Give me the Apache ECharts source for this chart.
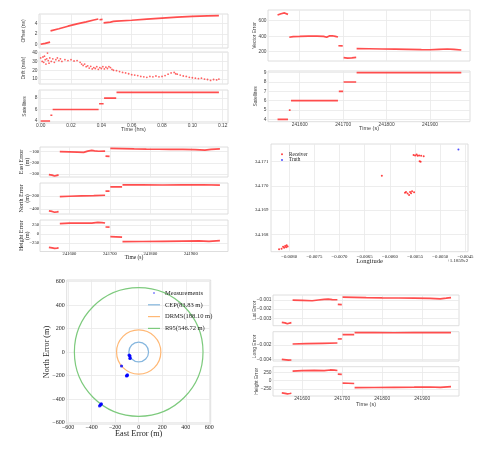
<!DOCTYPE html>
<html>
<head>
<meta charset="utf-8">
<script src="https://cdn.jsdelivr.net/npm/echarts@6/dist/echarts.min.js"></script>
<style>
html, body { margin: 0; padding: 0; background: #fff; }
#main { width: 501px; height: 452px; }
</style>
</head>
<body>
<div id="main"></div>
<script>
// ---- 数据 ----
// 左上: 钟差 / 钟漂 / 卫星数 (时间: 小时)
var hrsTicks = [0, 0.02, 0.04, 0.06, 0.08, 0.10, 0.12];
var offsetSegs = [
    [[0, 0], [0.003, 0.18], [0.0062, 0.42]],
    [[0.0065, 2.6], [0.012, 3.0], [0.018, 3.5], [0.024, 3.95], [0.030, 4.35], [0.035, 4.7], [0.038, 4.9]],
    [[0.0388, 4.75], [0.0408, 4.82]],
    [[0.0415, 4.15], [0.046, 4.3], [0.048, 4.42], [0.050, 4.47], [0.060, 4.65], [0.070, 4.85], [0.080, 5.05], [0.090, 5.25], [0.100, 5.4], [0.110, 5.5], [0.1175, 5.55]]
];
var driftPts = [
    [0, 34], [0.001, 30], [0.0015, 35], [0.002, 29], [0.0025, 36], [0.003, 32], [0.0035, 27], [0.004, 33], [0.0045, 39.5],
    [0.005, 31], [0.0055, 28], [0.006, 34], [0.007, 30], [0.008, 33], [0.009, 29], [0.010, 32], [0.011, 34], [0.012, 31],
    [0.013, 33], [0.014, 30], [0.016, 32], [0.018, 31], [0.020, 32], [0.022, 30.5], [0.024, 31], [0.026, 29], [0.027, 27],
    [0.028, 25.5], [0.029, 27], [0.030, 24], [0.031, 25], [0.032, 22.5], [0.033, 24.5], [0.034, 21.5], [0.035, 23],
    [0.036, 22], [0.037, 24], [0.038, 21], [0.039, 23], [0.040, 22], [0.041, 24], [0.042, 21.5], [0.043, 23.5], [0.044, 22],
    [0.045, 24], [0.046, 23], [0.047, 21], [0.048, 20], [0.050, 19.5], [0.052, 18.5], [0.054, 17.5], [0.056, 17], [0.058, 16],
    [0.060, 15], [0.062, 14.5], [0.064, 14], [0.066, 13], [0.068, 12.5], [0.070, 12], [0.072, 13], [0.074, 12.5], [0.076, 13.5],
    [0.078, 12.5], [0.080, 13], [0.082, 14], [0.084, 15.5], [0.086, 17], [0.088, 17.5], [0.089, 16], [0.090, 15.5], [0.092, 14.5],
    [0.094, 13.5], [0.096, 13], [0.098, 12], [0.100, 11.5], [0.102, 11], [0.104, 10.5], [0.106, 11], [0.108, 10], [0.110, 9.5],
    [0.112, 8.5], [0.114, 9.5], [0.116, 9], [0.1175, 10]
];
var satHrsSegs = [
    [[0, 4], [0.0062, 4]], [[0.0064, 5], [0.0077, 5]], [[0.0079, 6], [0.0382, 6]],
    [[0.0385, 7], [0.0415, 7]], [[0.0418, 8], [0.0498, 8]], [[0.050, 9], [0.1175, 9]]
];

// 时间 (秒)
var secTicks = [241600, 241700, 241800, 241900];
var vecErrSegs = [
    [[241549, 673], [241553, 682], [241557, 690], [241561, 688], [241565, 700], [241569, 695], [241573, 682]],
    [[241576, 386], [241585, 395], [241600, 397], [241620, 400], [241640, 402], [241655, 398], [241662, 387], [241668, 404], [241675, 406], [241682, 398], [241688, 390]],
    [[241689, 277], [241699, 275]],
    [[241701, 123], [241710, 117], [241720, 120], [241730, 126]],
    [[241731, 239], [241760, 238], [241790, 235], [241820, 233], [241850, 230], [241880, 226], [241900, 225], [241920, 230], [241940, 235], [241955, 230], [241972, 222]]
];
var satSecSegs = [
    [[241549, 4], [241573, 4]], [[241575, 5], [241579, 5]], [[241580, 6], [241688, 6]],
    [[241690, 7], [241700, 7]], [[241701, 8], [241730, 8]], [[241731, 9], [241972, 9]]
];
var eastSegs = [
    [[241549, -305], [241557, -310], [241563, -318], [241569, -312], [241573, -308]],
    [[241576, -100], [241600, -102], [241620, -104], [241635, -106], [241645, -95], [241655, -88], [241662, -92], [241672, -96], [241688, -95]],
    [[241689, -139], [241699, -142]],
    [[241701, -70], [241730, -72], [241760, -75], [241790, -77], [241820, -78], [241850, -80], [241880, -80], [241910, -82], [241935, -86], [241950, -80], [241972, -75]]
];
var northSegs = [
    [[241549, -430], [241557, -438], [241563, -450], [241569, -445], [241573, -440]],
    [[241576, -210], [241600, -205], [241630, -200], [241660, -196], [241688, -190]],
    [[241689, -127], [241699, -125]],
    [[241701, -62], [241730, -60]],
    [[241731, -31], [241780, -30], [241830, -33], [241880, -31], [241930, -29], [241972, -35]]
];
var heightSegs = [
    [[241549, -365], [241557, -380], [241563, -395], [241569, -385], [241573, -378]],
    [[241576, 285], [241600, 300], [241630, 305], [241655, 300], [241670, 320], [241680, 315], [241688, 305]],
    [[241689, 195], [241699, 190]],
    [[241701, -73], [241715, -78], [241730, -85]],
    [[241731, -210], [241780, -205], [241830, -200], [241880, -195], [241920, -190], [241945, -200], [241972, -182]]
];
var latSegs = [
    [[241549, -0.00345], [241557, -0.0035], [241563, -0.0036], [241569, -0.00352], [241573, -0.00348]],
    [[241576, -0.00102], [241600, -0.00104], [241625, -0.00108], [241640, -0.0010], [241655, -0.00092], [241665, -0.0009], [241675, -0.00096], [241688, -0.00097]],
    [[241689, -0.00147], [241699, -0.0015]],
    [[241701, -0.00068], [241730, -0.0007], [241760, -0.00073], [241800, -0.00076], [241840, -0.00078], [241880, -0.0008], [241920, -0.00082], [241945, -0.00088], [241960, -0.0008], [241972, -0.00073]]
];
var longSegs = [
    [[241549, -0.0040], [241560, -0.00408], [241566, -0.00413], [241573, -0.0041]],
    [[241576, -0.00186], [241610, -0.0018], [241650, -0.00176], [241688, -0.00172]],
    [[241689, -0.00116], [241699, -0.00114]],
    [[241701, -0.00056], [241730, -0.00054]],
    [[241731, -0.00028], [241780, -0.00026], [241830, -0.00029], [241880, -0.00027], [241930, -0.00025], [241972, -0.00028]]
];

// 经纬度散点 (经度为相对 118.59 的偏移)
var lonTicks = [-0.0080, -0.0075, -0.0070, -0.0065, -0.0060, -0.0055, -0.0050, -0.0045];
var latTicks = [34.168, 34.169, 34.170, 34.171];
var receiverPts = [
    [-0.00812, 34.16748], [-0.00808, 34.16752], [-0.00805, 34.16755], [-0.00803, 34.16750], [-0.00810, 34.16744],
    [-0.00815, 34.16740], [-0.00820, 34.16738], [-0.00806, 34.16746],
    [-0.00616, 34.17042],
    [-0.00570, 34.16972], [-0.00565, 34.16968], [-0.00560, 34.16975], [-0.00556, 34.16978], [-0.00552, 34.16974],
    [-0.00562, 34.16962], [-0.00568, 34.16975], [-0.00558, 34.16970],
    [-0.00553, 34.17128], [-0.00547, 34.17130], [-0.00542, 34.17126], [-0.00538, 34.17124], [-0.00533, 34.17122],
    [-0.00545, 34.17124], [-0.00550, 34.17126],
    [-0.00539, 34.17100], [-0.00541, 34.17102]
];
var truthPts = [[-0.00464, 34.1715]];

// 误差散布图
var errTicks = [-600, -400, -200, 0, 200, 400, 600];
var measPts = [
    [-320, -445], [-326, -452], [-333, -458], [-318, -440],
    [-100, -198], [-96, -194], [-104, -204], [-98, -202],
    [-146, -119],
    [-82, -26], [-78, -30], [-74, -34], [-72, -52], [-75, -55]
];
var cepR = 83.83, drmsR = 188.10, r95R = 546.72;

// ---- 样式 ----
var SANS = 'Liberation Sans', SERIF = 'Liberation Serif';
var RED = '#ff3b3b';
var myChart = echarts.init(document.getElementById('main'));

function joinSegs(segs) {
    var out = [];
    segs.forEach(function (s, i) {
        if (i) out.push([s[0][0], '-']);
        out.push.apply(out, s);
    });
    return out;
}
function fmt(d) {
    return function (v) { return v.toFixed(d).replace('-', '\u2212'); };
}

var grids = [], xAxes = [], yAxes = [], series = [], titles = [];
function addPlot(c) {
    var i = grids.length;
    var font = c.serif ? SERIF : SANS;
    var col = c.serif ? '#222' : '#444';
    var fs = c.fs || (c.serif ? 4.6 : 4.8);
    grids.push({ left: c.box[0], top: c.box[1], width: c.box[2], height: c.box[3], show: true,
        borderColor: '#d6d6d6', borderWidth: 0.8, backgroundColor: '#fff' });
    xAxes.push({
        gridIndex: i, type: 'value', min: c.x[0], max: c.x[1],
        axisLine: { show: false },
        axisTick: { show: false, customValues: c.xTicks },
        splitLine: { show: true, lineStyle: { color: '#e9e9e9', width: 0.8 } },
        axisLabel: { show: !!c.xShow, customValues: c.xTicks, formatter: c.xFmt, margin: c.xMargin == null ? 0.5 : c.xMargin,
            fontSize: fs, fontFamily: font, color: col, hideOverlap: false }
    });
    yAxes.push({
        gridIndex: i, type: 'value', min: c.y[0], max: c.y[1],
        axisLine: { show: false },
        axisTick: { show: false, customValues: c.yTicks },
        splitLine: { show: true, lineStyle: { color: '#e9e9e9', width: 0.8 } },
        axisLabel: { customValues: c.yTicks, formatter: c.yFmt, margin: c.yMargin || 1.5,
            fontSize: fs, fontFamily: font, color: col, hideOverlap: false }
    });
    // 坐标轴标题
    if (c.yName) addTitle(c.yName, c.yNameX, c.box[1] + c.box[3] / 2, c.ynfs || 5, font, col, true);
    if (c.xName) addTitle(c.xName, c.box[0] + c.box[2] / 2, c.xNameY, c.xnfs || 5.5, font, col, false);
    return i;
}
function addTitle(text, x, y, size, font, col, vertical) {
    titles.push({ type: 'text', x: x, y: y, rotation: vertical ? Math.PI / 2 : 0, silent: true,
        style: { text: text, align: 'center', verticalAlign: 'middle', fill: col,
            font: size + 'px "' + font + '"', lineHeight: size + 0.8 } });
}
function lineSeries(i, segs) {
    series.push({ type: 'line', xAxisIndex: i, yAxisIndex: i, data: joinSegs(segs), showSymbol: false,
        connectNulls: false, silent: true, lineStyle: { color: RED, width: 1.7, opacity: 0.9 }, itemStyle: { color: RED } });
}

var T = [241527, 241992];

// 左上
var g0 = addPlot({ box: [39, 14, 189, 34], x: [-0.0011, 0.1235], xTicks: hrsTicks, y: [-0.72, 5.86], yTicks: [0, 2, 4],
    yFmt: fmt(0), yName: 'Offset (ns)', yNameX: 24 });
lineSeries(g0, offsetSegs);
var g1 = addPlot({ box: [39, 52, 189, 32], x: [-0.0011, 0.1235], xTicks: hrsTicks, y: [4.4, 40.7], yTicks: [10, 20, 30, 40],
    yFmt: fmt(0), yName: 'Drift (ns/s)', yNameX: 24 });
series.push({ type: 'scatter', xAxisIndex: g1, yAxisIndex: g1, data: driftPts, symbolSize: 1.8, silent: true,
    itemStyle: { color: RED, opacity: 0.8 } });
var g2 = addPlot({ box: [39, 90, 189, 33], x: [-0.0011, 0.1235], xTicks: hrsTicks, xShow: true, xFmt: fmt(2),
    y: [3.65, 9.4], yTicks: [4, 6, 8], yFmt: fmt(0), yName: 'Satellites', yNameX: 24.5,
    xName: 'Time (hrs)', xNameY: 129.5 });
lineSeries(g2, satHrsSegs);

// 右上
var g3 = addPlot({ box: [268, 10, 202, 51], x: T, xTicks: secTicks, y: [80, 738], yTicks: [200, 400, 600],
    yFmt: fmt(0), yName: 'Vector Error', yNameX: 255 });
lineSeries(g3, vecErrSegs);
var g4 = addPlot({ box: [268, 71, 202, 50.7], x: T, xTicks: secTicks, xShow: true, xFmt: fmt(0),
    y: [3.75, 9.18], yTicks: [4, 5, 6, 7, 8, 9], yFmt: fmt(0), yName: 'Satellites', yNameX: 256,
    xName: 'Time (s)', xNameY: 128.8 });
lineSeries(g4, satSecSegs);

// 左中
var g5 = addPlot({ serif: true, box: [40, 147, 188, 30], x: T, xTicks: secTicks, y: [-327, -58], yTicks: [-300, -200, -100],
    yFmt: fmt(0), yMargin: 1, yName: 'East Error\n(m)', yNameX: 24.5, ynfs: 6 });
lineSeries(g5, eastSegs);
var g6 = addPlot({ serif: true, box: [40, 183, 188, 31], x: T, xTicks: secTicks, y: [-477, -2], yTicks: [-400, -200],
    yFmt: fmt(0), yMargin: 1, yName: 'North Error\n(m)', yNameX: 24.5, ynfs: 6 });
lineSeries(g6, northSegs);
var g7 = addPlot({ serif: true, box: [40, 220, 188, 31.5], x: T, xTicks: secTicks, xShow: true, xFmt: fmt(0), xMargin: 0.2,
    y: [-480, 387], yTicks: [-250, 0, 250], yFmt: fmt(0), yMargin: 1, yName: 'Height Error\n(m)', yNameX: 24.5, ynfs: 6,
    xName: 'Time (s)', xNameY: 258, xnfs: 5.5 });
lineSeries(g7, heightSegs);

// 右中
var g8 = addPlot({ serif: true, box: [271, 144, 197, 107.7], x: [-0.00836, -0.00445], xTicks: lonTicks, xShow: true,
    xFmt: fmt(4), xMargin: 2.5, y: [34.16728, 34.17173], yTicks: latTicks, yFmt: fmt(3), yMargin: 2.7, fs: 4.8,
    xName: 'Longitude', xNameY: 261.5, xnfs: 6.5 });
series.push({ type: 'scatter', name: 'Receiver', xAxisIndex: g8, yAxisIndex: g8, data: receiverPts, symbolSize: 2,
    silent: true, itemStyle: { color: '#ff2020', opacity: 0.85 } });
series.push({ type: 'scatter', name: 'Truth', xAxisIndex: g8, yAxisIndex: g8, data: truthPts, symbolSize: 2,
    silent: true, itemStyle: { color: '#2020ff' } });

// 左下
var g9 = addPlot({ serif: true, box: [66.7, 280, 144, 144], x: [-612, 612], xTicks: errTicks, xShow: true, xFmt: fmt(0),
    xMargin: 0.5, y: [-612, 612], yTicks: errTicks, yFmt: fmt(0), yMargin: 2, fs: 6,
    xName: 'East Error (m)', xNameY: 433.5, xnfs: 8.2, yName: 'North Error (m)', yNameX: 47, ynfs: 8.2 });
series.push({ type: 'scatter', name: 'Measurements', xAxisIndex: g9, yAxisIndex: g9, data: measPts, symbolSize: 3.2,
    silent: true, itemStyle: { color: '#0000ff' } });
function circleSeries(name, r, color) {
    series.push({
        type: 'custom', name: name, xAxisIndex: g9, yAxisIndex: g9, data: [[r, 0]], silent: true, clip: false,
        itemStyle: { color: color },
        renderItem: function (params, api) {
            var c = api.coord([0, 0]);
            var rr = api.size([api.value(0), 0])[0];
            return { type: 'circle', shape: { cx: c[0], cy: c[1], r: rr },
                style: { fill: null, stroke: color, lineWidth: 1.2 } };
        }
    });
}
circleSeries('CEP(83.83 m)', cepR, '#85b6de');
circleSeries('DRMS(188.10 m)', drmsR, '#ffb875');
circleSeries('R95(546.72 m)', r95R, '#7dca7d');

// 右下
var g10 = addPlot({ box: [273, 295, 186, 30.7], x: T, xTicks: secTicks, y: [-0.00381, -0.00045],
    yTicks: [-0.003, -0.002, -0.001], yFmt: fmt(3), yName: 'Lat Error', yNameX: 255 });
lineSeries(g10, latSegs);
var g11 = addPlot({ box: [273, 331.7, 186, 29.3], x: T, xTicks: secTicks, y: [-0.00424, -0.00014],
    yTicks: [-0.004, -0.002], yFmt: fmt(3), yName: 'Long Error', yNameX: 255 });
lineSeries(g11, longSegs);
var g12 = addPlot({ box: [273, 366.7, 186, 29.3], x: T, xTicks: secTicks, xShow: true, xFmt: fmt(0),
    y: [-460, 418], yTicks: [-250, 0, 250], yFmt: fmt(0), yName: 'Height Error', yNameX: 257,
    xName: 'Time (s)', xNameY: 404.3 });
lineSeries(g12, heightSegs);

titles.push({ type: 'text', left: 447, top: 258.5, silent: true,
    style: { text: '+1.1859e2', font: '5px "Liberation Serif"', fill: '#222' } });

var LINE_ICON = 'path://M0,0H20V2H0Z';
var option = {
    animation: false,
    backgroundColor: '#fff',
    grid: grids,
    xAxis: xAxes,
    yAxis: yAxes,
    legend: [
        { orient: 'vertical', left: 143, top: 284.5, itemWidth: 12, itemHeight: 1.6, itemGap: 4.8, selectedMode: false,
          textStyle: { fontFamily: SERIF, fontSize: 6.5, color: '#222' },
          data: [{ name: 'Measurements', icon: 'circle' }, { name: 'CEP(83.83 m)', icon: LINE_ICON },
                 { name: 'DRMS(188.10 m)', icon: LINE_ICON }, { name: 'R95(546.72 m)', icon: LINE_ICON }] },
        { orient: 'vertical', left: 276, top: 146.8, itemWidth: 4, itemHeight: 2, itemGap: 0.7, selectedMode: false,
          textStyle: { fontFamily: SERIF, fontSize: 5.2, color: '#222' },
          data: [{ name: 'Receiver', icon: 'circle' }, { name: 'Truth', icon: 'circle' }] }
    ],
    graphic: titles,
    series: series
};
myChart.setOption(option);
</script>
</body>
</html>
